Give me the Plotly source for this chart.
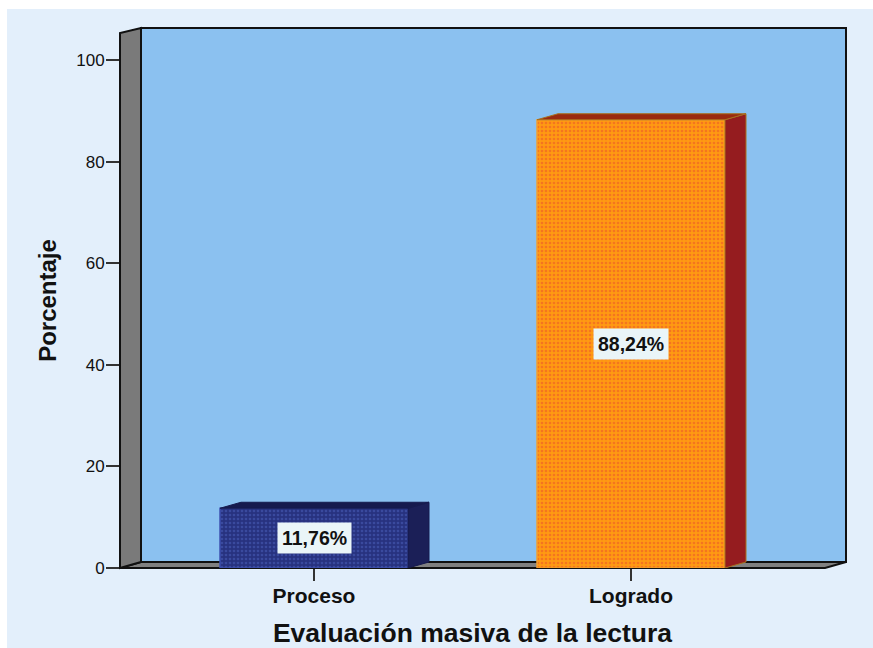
import plotly.graph_objects as go

categories = ["Proceso", "Logrado"]
values = [11.76, 88.24]
labels = ["11,76%", "88,24%"]
y_ticks = [0, 20, 40, 60, 80, 100]

face = ["#27327F", "#FF9A12"]
dots = ["#3A4A9E", "#F4751F"]
edge = ["#3E50B0", "#F0A030"]
side = ["#1B1F57", "#951C1F"]
top_c = ["#161A4E", "#9A2A10"]
top_edge = ["#161A4E", "#A8701E"]

W, H = 873, 648
L, R, T, B = 120, 825, 33, 568
px_x, px_y = 317.0, 5.08
x0 = 314.0
x_lo, x_hi = (L - x0) / px_x, (R - x0) / px_x
y_hi = (B - T) / px_y
dx, dy = 21 / px_x, 6 / px_y
bw = 188 / px_x
xs = list(range(len(categories)))


def fx(x):
    return (x - x_lo) / (x_hi - x_lo)


def fy(y):
    return y / y_hi


fig = go.Figure()
for i, v in zip(xs, values):
    fig.add_trace(go.Bar(
        x=[i], y=[v], width=bw,
        marker=dict(color=face[i], line=dict(color=edge[i], width=1.5),
                    pattern=dict(shape=".", size=4, solidity=0.35, fgcolor=dots[i], fgopacity=1, fillmode="overlay")),
        showlegend=False, hoverinfo="skip"))

for i, v in zip(xs, values):
    a, b = i - bw / 2, i + bw / 2
    fig.add_trace(go.Scatter(x=[b, b + dx, b + dx, b, b], y=[0, dy, v + dy, v, 0], mode="lines", fill="toself",
                             fillcolor=side[i], line=dict(color=top_edge[i], width=1), showlegend=False, hoverinfo="skip"))
    fig.add_trace(go.Scatter(x=[a, a + dx, b + dx, b, a], y=[v, v + dy, v + dy, v, v], mode="lines", fill="toself",
                             fillcolor=top_c[i], line=dict(color=top_edge[i], width=1), showlegend=False, hoverinfo="skip"))

wall_top = y_hi + 1.0
shapes = [
    dict(type="rect", xref="paper", yref="paper", layer="below",
         x0=(7 - L) / (R - L), x1=(W - L) / (R - L), y0=(B - H) / (B - T), y1=(B - 9) / (B - T),
         fillcolor="#E3EFFB", line_width=0),
    dict(type="rect", xref="paper", yref="paper", layer="below",
         x0=fx(x_lo + dx), x1=fx(x_hi + dx), y0=fy(dy), y1=fy(wall_top),
         fillcolor="#8BC1F0", line=dict(color="#111111", width=2)),
    dict(type="path", xref="paper", yref="paper", layer="below",
         path=f"M{fx(x_lo)},{fy(0)} L{fx(x_lo + dx)},{fy(dy)} L{fx(x_hi + dx)},{fy(dy)} L{fx(x_hi)},{fy(0)} Z",
         fillcolor="#808080", line=dict(color="#111111", width=2)),
    dict(type="path", xref="paper", yref="paper", layer="below",
         path=f"M{fx(x_lo)},{fy(0)} L{fx(x_lo + dx)},{fy(dy)} L{fx(x_lo + dx)},{fy(wall_top)} L{fx(x_lo)},{fy(y_hi)} Z",
         fillcolor="#7A7A7A", line=dict(color="#111111", width=2)),
]

annotations = [
    dict(x=i, y=v / 2, text=f"<b>{t}</b>", showarrow=False, bgcolor="#EAF5F8",
         font=dict(family="Liberation Sans", size=19.5, color="#111111"), borderpad=4)
    for i, v, t in zip(xs, values, labels)
]

fig.update_layout(
    width=W, height=H, autosize=False, barmode="overlay",
    margin=dict(l=L, r=W - R, t=T, b=H - B, autoexpand=False),
    paper_bgcolor="white", plot_bgcolor="rgba(0,0,0,0)",
    shapes=shapes, annotations=annotations,
    font=dict(family="Liberation Sans", color="#111111"),
    xaxis=dict(range=[x_lo, x_hi], tickmode="array", tickvals=xs,
               ticktext=[f"<b>{c}</b>" for c in categories],
               tickfont=dict(size=21), ticks="outside", ticklen=12, tickwidth=1.5, tickcolor="#333333",
               ticklabelstandoff=-3,
               showgrid=False, zeroline=False, showline=False,
               title=dict(text="<b>Evaluación masiva de la lectura</b>", font=dict(size=26.5), standoff=18)),
    yaxis=dict(range=[0, y_hi], tickmode="array", tickvals=y_ticks,
               tickfont=dict(size=17), ticks="outside", ticklen=13, tickwidth=1.5, tickcolor="#333333",
               ticklabelstandoff=-2,
               showgrid=False, zeroline=False, showline=False,
               title=dict(text="<b>Porcentaje</b>", font=dict(size=24), standoff=12)),
)
fig.write_html("out.html", config={"displayModeBar": False}, post_script="document.body.style.margin='0';")
